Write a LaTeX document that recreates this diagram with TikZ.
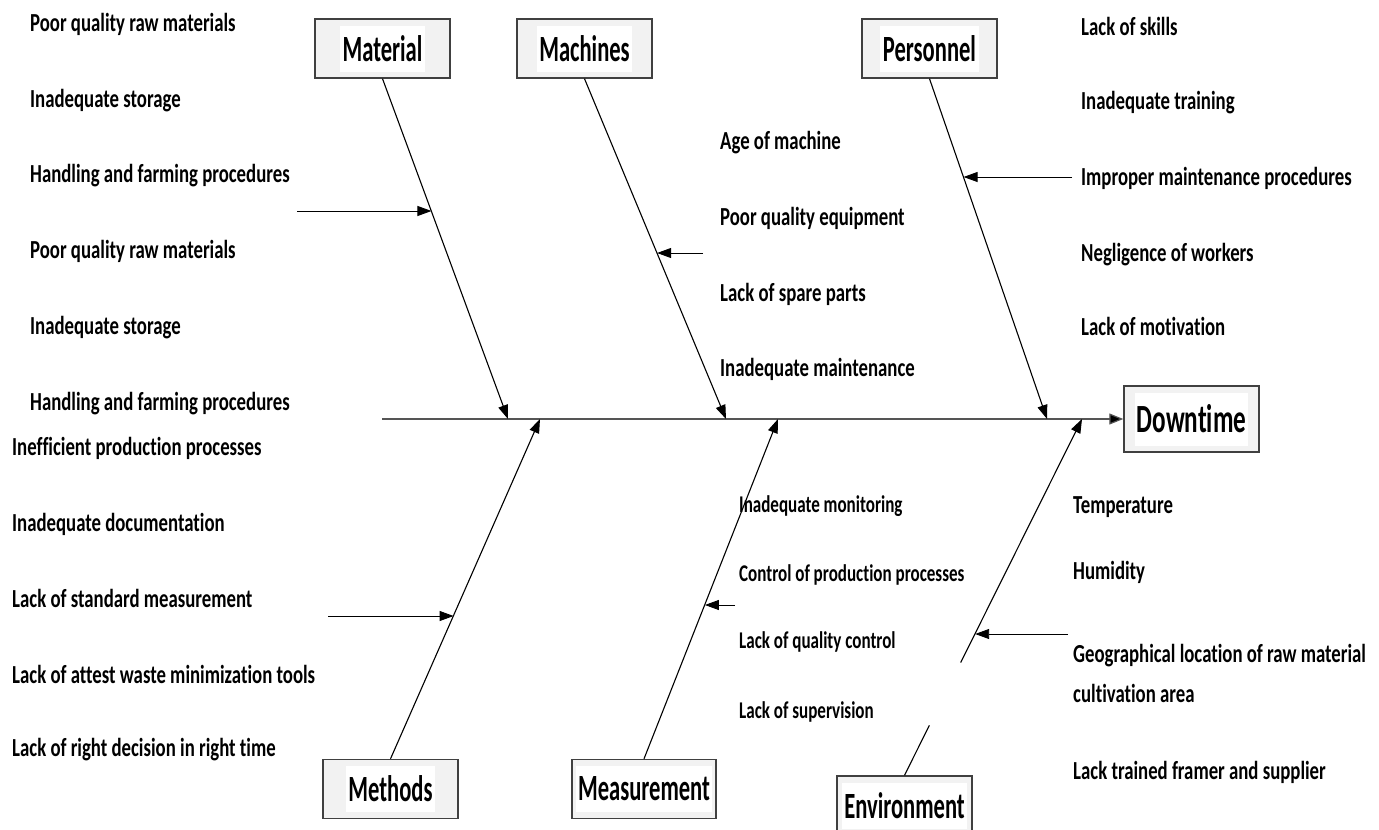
\documentclass[tikz,border=0pt]{standalone}
\usepackage{fontspec}
\setmainfont{Carlito}
\newfontfamily\causefont{Carlito}[FakeStretch=0.722, Ligatures={NoCommon}]
\newfontfamily\smallfont{Carlito}[FakeStretch=0.71, Ligatures={NoCommon}]
\newfontfamily\catfont{Carlito}[FakeStretch=0.61, Ligatures={NoCommon}]
\newfontfamily\effectfont{Carlito}[FakeStretch=0.63, Ligatures={NoCommon}]
\usetikzlibrary{arrows.meta,calc}

\definecolor{boxfill}{HTML}{F2F2F2}
\definecolor{boxline}{HTML}{404040}
\definecolor{spineline}{HTML}{555555}

\tikzset{
  catbox/.style={draw=boxline, line width=1.4pt, fill=boxfill,
    minimum width=135pt, minimum height=59pt, inner sep=0pt},
  cattext/.style={fill=white, inner xsep=2.5pt, inner ysep=0pt,
    minimum height=46pt, font=\catfont\bfseries\fontsize{37}{40}\selectfont},
  cause/.style={anchor=base west, inner sep=0pt,
    font=\causefont\bfseries\fontsize{26}{30}\selectfont},
  smallcause/.style={cause, font=\smallfont\bfseries\fontsize{24}{28}\selectfont},
  rib/.style={line width=1.1pt, -{Triangle[length=14pt,width=10pt]}},
  feeder/.style={line width=0.9pt, -{Triangle[length=14pt,width=10pt]}},
}

\begin{document}
\begin{tikzpicture}[x=1pt, y=-1pt]
\useasboundingbox (0,0) rectangle (1379,830);

% category boxes
\node[catbox] (mat) at (382.5,48.5) {};
\node[cattext] (matt) at (mat) {Material};
\node[catbox] (mach) at (584.5,48.5) {};
\node[cattext] (macht) at (mach) {Machines};
\node[catbox] (pers) at (929.5,48.5) {};
\node[cattext] (perst) at (pers) {Personnel};
\node[catbox] (meth) at (390.5,789) {};
\node[cattext] (metht) at (meth) {Methods};
\node[catbox, minimum width=144pt] (meas) at (644,789) {};
\node[cattext] (meast) at (meas) {Measurement};
\node[catbox] (env) at (904.5,805.5) {};
\node[cattext] (envt) at (env) {Environment};

% effect box
\node[catbox, minimum height=66pt] (dt) at (1191.5,419) {};
\node[cattext, minimum height=53pt, font=\effectfont\bfseries\fontsize{40}{44}\selectfont, inner xsep=1.5pt]
  (dtt) at (dt) {Downtime};

% spine
\coordinate (tail) at (382,419);
\draw[line width=1.2pt, draw=spineline, -{Triangle[length=14pt,width=11pt,fill=black]}] (tail) -- (dt.west);

% points where the ribs meet the spine
\coordinate (pMat)  at (508,419);
\coordinate (pMach) at (726,419);
\coordinate (pPers) at (1047,419);
\coordinate (pMeth) at (540,419);
\coordinate (pMeas) at (778,419);
\coordinate (pEnv)  at (1082,419);

% ribs
\draw[rib] (mat.south)  -- (pMat);
\draw[rib] (mach.south) -- (pMach);
\draw[rib] (pers.south) -- (pPers);
\draw[rib] (meth.north) -- (pMeth);
\draw[rib] (meas.north) -- (pMeas);
\draw[rib] ($(env.north)!0.3165!(pEnv)$) -- (pEnv);
\draw[line width=1.1pt] (env.north) -- ($(env.north)!0.14!(pEnv)$);

% feeder arrows onto the ribs
\coordinate (fMat)  at (297,211);
\coordinate (fMach) at (703,253);
\coordinate (fPers) at (1072,177);
\coordinate (fMeth) at (328,616);
\coordinate (fMeas) at (735,605);
\coordinate (fEnv)  at (1068,634);
\coordinate (hMat)  at ($(mat.south)!0.39!(pMat)$);
\coordinate (hMach) at ($(mach.south)!0.513!(pMach)$);
\coordinate (hPers) at ($(pers.south)!0.29!(pPers)$);
\coordinate (hMeth) at ($(meth.north)!0.422!(pMeth)$);
\coordinate (hMeas) at ($(meas.north)!0.4545!(pMeas)$);
\coordinate (hEnv)  at ($(env.north)!0.398!(pEnv)$);
\draw[feeder] (fMat)  -- (fMat -| hMat);
\draw[feeder] (fMach) -- (fMach -| hMach);
\draw[feeder] (fPers) -- (fPers -| hPers);
\draw[feeder] (fMeth) -- (fMeth -| hMeth);
\draw[feeder] (fMeas) -- (fMeas -| hMeas);
\draw[feeder] (fEnv)  -- (fEnv -| hEnv);

% causes: material
\node[cause] (m1) at (30,31)  {Poor quality raw materials};
\node[cause] (m2) at (30,107) {Inadequate storage};
\node[cause] (m3) at (30,182) {Handling and farming procedures};
\node[cause] (m4) at (30,258) {Poor quality raw materials};
\node[cause] (m5) at (30,334) {Inadequate storage};
\node[cause] (m6) at (30,410) {Handling and farming procedures};

% causes: machines
\node[cause] (c1) at (720,149) {Age of machine};
\node[cause] (c2) at (720,225) {Poor quality equipment};
\node[cause] (c3) at (720,301) {Lack of spare parts};
\node[cause] (c4) at (720,376) {Inadequate maintenance};

% causes: personnel
\node[cause] (p1) at (1081,35)  {Lack of skills};
\node[cause] (p2) at (1081,109) {Inadequate training};
\node[cause] (p3) at (1081,185) {Improper maintenance procedures};
\node[cause] (p4) at (1081,261) {Negligence of workers};
\node[cause] (p5) at (1081,335) {Lack of motivation};

% causes: methods
\node[cause] (t1) at (12,455) {Inefficient production processes};
\node[cause] (t2) at (12,531) {Inadequate documentation};
\node[cause] (t3) at (12,607) {Lack of standard measurement};
\node[cause] (t4) at (12,683) {Lack of attest waste minimization tools};
\node[cause] (t5) at (12,756) {Lack of right decision in right time};

% causes: measurement
\node[smallcause] (s1) at (739,512) {Inadequate monitoring};
\node[smallcause] (s2) at (739,581) {Control of production processes};
\node[smallcause] (s3) at (739,648) {Lack of quality control};
\node[smallcause] (s4) at (739,718) {Lack of supervision};

% causes: environment
\node[cause] (e1) at (1073,513) {Temperature};
\node[cause] (e2) at (1073,579) {Humidity};
\node[cause] (e3) at (1073,662) {Geographical location of raw material};
\node[cause] (e4) at (1073,702) {cultivation area};
\node[cause] (e5) at (1073,779) {Lack trained framer and supplier};
\end{tikzpicture}
\end{document}
